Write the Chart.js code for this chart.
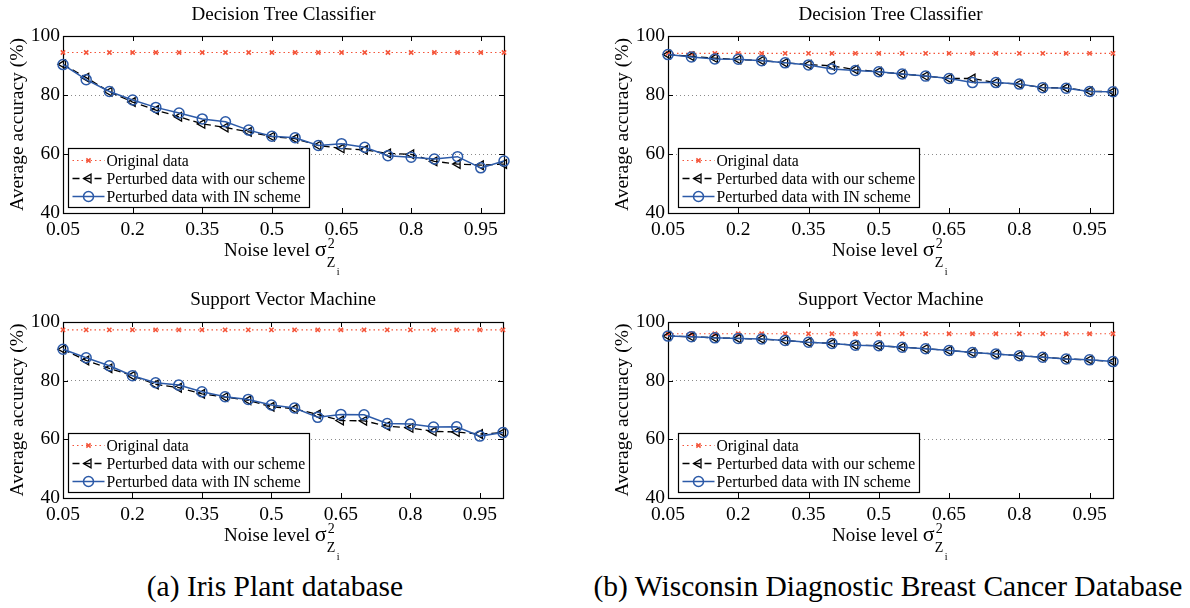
<!DOCTYPE html>
<html>
<head>
<meta charset="utf-8">
<script src="https://cdn.jsdelivr.net/npm/chart.js"></script>
<style>
  html, body { margin: 0; padding: 0; background: #fff; }
  #wrap { position: relative; width: 1190px; height: 608px; overflow: hidden; font-family: "Liberation Serif", "Times New Roman", serif; color: #000; }
  canvas { position: absolute; }
  .xt { position: absolute; font-size: 19px; line-height: 20px; white-space: nowrap; }
  .xt .sig { font-size: 22px; }
  .xt .sc { position: relative; display: inline-block; width: 16px; height: 10px; }
  .xt .sup { position: absolute; left: 1px; top: -12px; font-size: 14px; }
  .xt .sub { position: absolute; left: 0px; top: 7px; font-size: 14px; }
  .xt .subi { position: absolute; left: 10px; top: 16px; font-size: 10px; }
  .cap { position: absolute; font-size: 29.5px; white-space: nowrap; text-align: center; }
</style>
</head>
<body>
<div id="wrap">
  <canvas id="c1" width="525" height="240" style="left:0px;top:0px"></canvas>
  <canvas id="c2" width="525" height="240" style="left:605px;top:0px"></canvas>
  <canvas id="c3" width="525" height="240" style="left:0px;top:285px"></canvas>
  <canvas id="c4" width="525" height="240" style="left:605px;top:285px"></canvas>

  <div class="xt" style="left:224px;top:239px">Noise level <span class="sig">σ</span><span class="sc"><span class="sup">2</span><span class="sub">Z</span><span class="subi">i</span></span></div>
  <div class="xt" style="left:832px;top:239px">Noise level <span class="sig">σ</span><span class="sc"><span class="sup">2</span><span class="sub">Z</span><span class="subi">i</span></span></div>
  <div class="xt" style="left:224px;top:524px">Noise level <span class="sig">σ</span><span class="sc"><span class="sup">2</span><span class="sub">Z</span><span class="subi">i</span></span></div>
  <div class="xt" style="left:832px;top:524px">Noise level <span class="sig">σ</span><span class="sc"><span class="sup">2</span><span class="sub">Z</span><span class="subi">i</span></span></div>

  <div class="cap" style="left:75px;width:400px;top:570px">(a) Iris Plant database</div>
  <div class="cap" style="left:588px;width:600px;top:570px">(b) Wisconsin Diagnostic Breast Cancer Database</div>
</div>
<script>
// ---------------- data ----------------
const noiseLevels = [0.05, 0.10, 0.15, 0.20, 0.25, 0.30, 0.35, 0.40, 0.45, 0.50,
                     0.55, 0.60, 0.65, 0.70, 0.75, 0.80, 0.85, 0.90, 0.95, 1.00];
const xTickValues = [0.05, 0.2, 0.35, 0.5, 0.65, 0.8, 0.95];
const xTickLabels = ["0.05", "0.2", "0.35", "0.5", "0.65", "0.8", "0.95"];
const yTickValues = [40, 60, 80, 100];
const seriesNames = ["Original data", "Perturbed data with our scheme", "Perturbed data with IN scheme"];
const panelTitles = ["Decision Tree Classifier", "Decision Tree Classifier", "Support Vector Machine", "Support Vector Machine"];

// (a) Iris, Decision Tree
const irisDtOriginal = [94.4, 94.4, 94.4, 94.4, 94.4, 94.4, 94.4, 94.4, 94.4, 94.4,
                        94.4, 94.4, 94.4, 94.4, 94.4, 94.4, 94.4, 94.4, 94.4, 94.4];
const irisDtOurs = [90.4, 85.9, 81.1, 77.6, 74.9, 72.6, 70.2, 69.0, 67.5, 65.9,
                    65.2, 62.9, 61.9, 61.4, 60.2, 59.9, 57.5, 56.6, 56.2, 56.6];
const irisDtIN   = [90.3, 85.2, 81.2, 78.3, 75.8, 73.9, 71.9, 70.9, 68.1, 66.0,
                    65.5, 62.9, 63.5, 62.3, 59.4, 58.9, 58.3, 59.1, 55.3, 57.6];
// (b) Wisconsin, Decision Tree
const wdbcDtOriginal = [94.1, 94.1, 94.1, 94.1, 94.1, 94.1, 94.1, 94.1, 94.1, 94.1,
                        94.1, 94.1, 94.1, 94.1, 94.1, 94.1, 94.1, 94.1, 94.1, 94.1];
const wdbcDtOurs = [93.7, 93.1, 92.5, 92.0, 91.7, 90.9, 90.3, 89.9, 88.6, 87.9,
                    87.1, 86.4, 85.6, 85.6, 84.2, 83.7, 82.5, 82.4, 81.3, 81.1];
const wdbcDtIN   = [93.7, 92.9, 92.2, 92.1, 91.6, 90.9, 90.2, 88.8, 88.3, 87.9,
                    87.1, 86.4, 85.6, 84.2, 84.2, 83.7, 82.5, 82.3, 81.2, 81.1];
// (a) Iris, SVM
const irisSvmOriginal = [97.3, 97.3, 97.3, 97.3, 97.3, 97.3, 97.3, 97.3, 97.3, 97.3,
                         97.3, 97.3, 97.3, 97.3, 97.3, 97.3, 97.3, 97.3, 97.3, 97.3];
const irisSvmOurs = [90.7, 86.9, 84.2, 81.7, 78.7, 77.6, 75.5, 74.4, 73.3, 71.1,
                     70.4, 68.5, 66.4, 66.3, 64.5, 63.9, 62.7, 62.5, 61.8, 62.3];
const irisSvmIN   = [90.7, 87.8, 85.1, 81.7, 79.3, 78.5, 76.2, 74.5, 73.6, 71.7,
                     70.7, 67.5, 68.5, 68.4, 65.4, 65.2, 64.2, 64.3, 61.1, 62.3];
// (b) Wisconsin, SVM
const wdbcSvmOriginal = [96.0, 96.0, 96.0, 96.0, 96.0, 96.0, 96.0, 96.0, 96.0, 96.0,
                         96.0, 96.0, 96.0, 96.0, 96.0, 96.0, 96.0, 96.0, 96.0, 96.0];
const wdbcSvmOurs = [95.2, 95.0, 94.6, 94.4, 94.2, 93.7, 93.1, 92.7, 92.1, 91.9,
                     91.4, 90.9, 90.3, 89.6, 89.1, 88.5, 88.0, 87.4, 87.1, 86.5];
const wdbcSvmIN   = [95.2, 95.0, 94.6, 94.4, 94.2, 93.7, 93.1, 92.7, 92.1, 91.9,
                     91.4, 90.9, 90.3, 89.6, 89.1, 88.5, 88.0, 87.4, 87.1, 86.5];

// ---------------- styling ----------------
const FONT = "'Liberation Serif', 'Times New Roman', serif";
const RED = '#f4553a';
const BLUE = '#2c5aa8';

function marker(ctx, style, x, y, r, rot) {
  if (Chart.helpers && Chart.helpers.drawPoint) {
    Chart.helpers.drawPoint(ctx, { pointStyle: style, radius: r, rotation: rot, borderWidth: ctx.lineWidth }, x, y);
  }
}

const framePlugin = {
  id: 'frame',
  beforeDatasetsDraw(chart) {
    const { ctx, chartArea: a, scales } = chart;
    ctx.save();
    ctx.strokeStyle = '#000';
    ctx.lineWidth = 1.2;
    ctx.setLineDash([]);
    ctx.strokeRect(Math.round(a.left) + 0.5, Math.round(a.top) + 0.5,
                   Math.round(a.right - a.left), Math.round(a.bottom - a.top));
    ctx.lineWidth = 1;
    ctx.beginPath();
    xTickValues.forEach(v => {
      const px = Math.round(scales.x.getPixelForValue(v)) + 0.5;
      ctx.moveTo(px, a.bottom); ctx.lineTo(px, a.bottom - 5);
      ctx.moveTo(px, a.top); ctx.lineTo(px, a.top + 5);
    });
    yTickValues.forEach(v => {
      const py = Math.round(scales.y.getPixelForValue(v)) + 0.5;
      ctx.moveTo(a.left, py); ctx.lineTo(a.left + 5, py);
      ctx.moveTo(a.right, py); ctx.lineTo(a.right - 5, py);
    });
    ctx.stroke();
    ctx.restore();
  },
  afterDatasetsDraw(chart, args, opts) {
    const { ctx, chartArea: a } = chart;
    const bx = Math.round(a.left + (opts.offsetX || 6)) + 0.5;
    const bw = opts.width || 241;
    const bh = 59;
    const by = Math.round(a.bottom - 6 - bh) + 0.5;
    ctx.save();
    ctx.fillStyle = '#fff';
    ctx.fillRect(bx, by, bw, bh);
    ctx.strokeStyle = '#000';
    ctx.lineWidth = 1.2;
    ctx.setLineDash([]);
    ctx.strokeRect(bx, by, bw, bh);
    chart.data.datasets.forEach((ds, i) => {
      const yy = by + 12 + i * 18;
      ctx.strokeStyle = ds.borderColor;
      ctx.lineWidth = ds.borderWidth;
      ctx.setLineDash(ds.borderDash || []);
      ctx.beginPath();
      ctx.moveTo(bx + 4, yy); ctx.lineTo(bx + 36, yy);
      ctx.stroke();
      ctx.setLineDash([]);
      ctx.strokeStyle = ds.pointBorderColor;
      ctx.fillStyle = 'rgba(0,0,0,0)';
      ctx.lineWidth = ds.pointBorderWidth;
      marker(ctx, ds.pointStyle, bx + 20, yy, ds.pointRadius, ds.pointRotation || 0);
      ctx.fillStyle = '#000';
      ctx.font = '15.7px ' + FONT;
      ctx.textBaseline = 'middle';
      ctx.textAlign = 'left';
      ctx.fillText(ds.label, bx + 38, yy + 1);
    });
    ctx.restore();
  }
};

function makeChart(id, title, original, ours, inScheme, plotTop, rightPad, legendOffset) {
  const mk = (arr) => noiseLevels.map((x, i) => ({ x: x, y: arr[i] }));
  const datasets = [
    { label: seriesNames[0], data: mk(original), borderColor: RED, borderWidth: 1.2, borderDash: [1.5, 3],
      pointStyle: 'crossRot', pointRadius: 3, pointBorderColor: RED, pointBorderWidth: 1.6,
      pointBackgroundColor: 'rgba(0,0,0,0)', order: 2 },
    { label: seriesNames[1], data: mk(ours), borderColor: '#000', borderWidth: 1.3, borderDash: [7, 4],
      pointStyle: 'triangle', pointRotation: -90, pointRadius: 5, pointBorderColor: '#000', pointBorderWidth: 1.3,
      pointBackgroundColor: 'rgba(0,0,0,0)', order: 1 },
    { label: seriesNames[2], data: mk(inScheme), borderColor: BLUE, borderWidth: 1.5,
      pointStyle: 'circle', pointRadius: 5, pointBorderColor: BLUE, pointBorderWidth: 1.5,
      pointBackgroundColor: 'rgba(0,0,0,0)', order: 0 }
  ];
  const xAxisH = 240 - 213 + (plotTop - 36);
  return new Chart(document.getElementById(id), {
    type: 'line',
    data: { datasets },
    options: {
      responsive: false,
      animation: false,
      layout: { padding: { left: 0, right: rightPad, top: 0, bottom: 0 } },
      elements: { line: { tension: 0, fill: false } },
      datasets: { line: { clip: false } },
      plugins: {
        legend: { display: false },
        tooltip: { enabled: false },
        title: { display: true, text: title, fullSize: false, color: '#000',
                 font: { family: FONT, size: 19, weight: 'normal', lineHeight: 1.2 },
                 padding: { top: 4, bottom: plotTop - 4 - 22.8 } },
        frame: { offsetX: legendOffset, width: 241 }
      },
      scales: {
        x: {
          type: 'linear', min: 0.05, max: 1.0,
          afterBuildTicks: (s) => { s.ticks = xTickValues.map(v => ({ value: v })); },
          afterFit: (s) => { s.height = xAxisH - (plotTop - 36); },
          ticks: { color: '#000', font: { family: FONT, size: 19.5 }, padding: 5, maxRotation: 0, autoSkip: false,
                   callback: (v) => { const k = xTickValues.indexOf(v); return k >= 0 ? xTickLabels[k] : ''; } },
          grid: { display: false, drawTicks: false },
          border: { display: false }
        },
        y: {
          type: 'linear', min: 40, max: 100,
          afterBuildTicks: (s) => { s.ticks = yTickValues.map(v => ({ value: v })); },
          afterFit: (s) => { s.width = 63; },
          ticks: { color: '#000', font: { family: FONT, size: 19.5 }, padding: 3 },
          grid: { drawTicks: false, lineWidth: 1,
                  color: (c) => (c.tick && (c.tick.value === 60 || c.tick.value === 80)) ? '#8a8a8a' : 'rgba(0,0,0,0)' },
          border: { display: false, dash: [1, 3] },
          title: { display: true, text: 'Average accuracy (%)', color: '#000',
                   font: { family: FONT, size: 19.5, weight: 'normal' }, padding: { top: 6, bottom: 0 } }
        }
      }
    },
    plugins: [framePlugin]
  });
}

makeChart('c1', panelTitles[0], irisDtOriginal, irisDtOurs, irisDtIN, 36, 21, 5);
makeChart('c2', panelTitles[1], wdbcDtOriginal, wdbcDtOurs, wdbcDtIN, 36, 17, 10);
makeChart('c3', panelTitles[2], irisSvmOriginal, irisSvmOurs, irisSvmIN, 37, 22, 5);
makeChart('c4', panelTitles[3], wdbcSvmOriginal, wdbcSvmOurs, wdbcSvmIN, 37, 17, 10);
</script>
</body>
</html>
